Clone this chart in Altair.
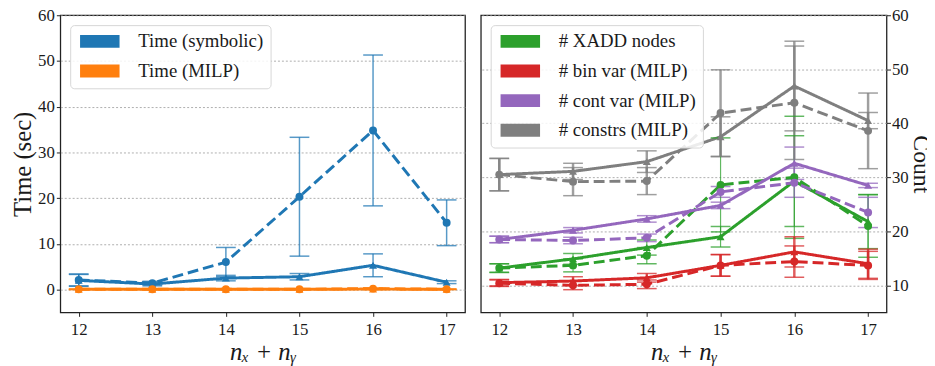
import altair as alt
import pandas as pd

X = [12, 13, 14, 15, 16, 17]

# ---------------- Left panel: time ----------------
TIME_SERIES = ["Time (symbolic)", "Time (MILP)"]
TIME_COLORS = ["#1f77b4", "#ff7f0e"]

sym_solid = [2.0, 1.2, 2.5, 2.8, 5.3, 1.6]
sym_solid_err = [1.3, 0.4, 0.6, 0.7, 2.5, 0.3]
sym_dash = [2.1, 1.4, 6.0, 20.3, 34.8, 14.6]
sym_dash_err = [1.3, 0.4, 3.2, 13.0, 16.5, 5.0]
milp_solid = [0.05, 0.05, 0.05, 0.05, 0.1, 0.05]
milp_solid_err = [0.05, 0.05, 0.05, 0.05, 0.1, 0.05]
milp_dash = [0.05, 0.05, 0.05, 0.05, 0.2, 0.05]
milp_dash_err = [0.05, 0.05, 0.05, 0.05, 0.1, 0.05]

# ---------------- Right panel: counts ----------------
COUNT_SERIES = ["# XADD nodes", "# bin var (MILP)", "# cont var (MILP)", "# constrs (MILP)"]
COUNT_COLORS = ["#2ca02c", "#d62728", "#9467bd", "#7f7f7f"]

xadd_solid = [13.2, 14.9, 17.0, 19.0, 29.3, 21.8]
xadd_solid_err = [0.8, 1.0, 1.4, 1.9, 8.4, 5.0]
xadd_dash = [13.2, 13.7, 15.5, 28.6, 30.0, 21.0]
xadd_dash_err = [0.8, 1.2, 1.5, 8.7, 11.3, 5.8]

bin_solid = [10.5, 10.8, 11.4, 13.7, 16.2, 14.0]
bin_solid_err = [0.6, 0.8, 0.8, 2.0, 2.8, 2.7]
bin_dash = [10.4, 10.0, 10.2, 13.7, 14.4, 13.7]
bin_dash_err = [0.6, 0.8, 0.8, 2.0, 2.9, 2.6]

cont_solid = [18.5, 20.2, 22.3, 24.8, 32.6, 28.5]
cont_solid_err = [0.6, 0.5, 0.6, 0.6, 3.0, 0.4]
cont_dash = [18.5, 18.3, 18.8, 27.3, 29.0, 23.5]
cont_dash_err = [0.6, 0.6, 0.7, 1.0, 2.7, 2.8]

cons_solid = [30.5, 31.1, 32.9, 37.5, 46.9, 40.5]
cons_solid_err = [3.0, 1.5, 2.0, 3.7, 8.3, 1.5]
cons_dash = [30.5, 29.2, 29.3, 41.9, 43.8, 38.6]
cons_dash_err = [3.0, 2.6, 2.5, 8.0, 10.5, 7.0]

ERR_WIDTH = {
    "Time (symbolic)": 1.5, "Time (MILP)": 1.5,
    "# XADD nodes": 1.2, "# bin var (MILP)": 2.5,
    "# cont var (MILP)": 1.5, "# constrs (MILP)": 2.5,
}

FONT = "Liberation Serif"


def build(entries):
    rows = []
    for series, style, means, errs in entries:
        for x, m, e in zip(X, means, errs):
            rows.append({"x": x, "series": series, "style": style, "mean": m,
                         "lo": m - e, "hi": m + e, "ew": ERR_WIDTH[series]})
    return pd.DataFrame(rows)


time_df = build([
    ("Time (symbolic)", "solid", sym_solid, sym_solid_err),
    ("Time (symbolic)", "dashed", sym_dash, sym_dash_err),
    ("Time (MILP)", "solid", milp_solid, milp_solid_err),
    ("Time (MILP)", "dashed", milp_dash, milp_dash_err),
])

count_df = build([
    ("# XADD nodes", "solid", xadd_solid, xadd_solid_err),
    ("# XADD nodes", "dashed", xadd_dash, xadd_dash_err),
    ("# bin var (MILP)", "solid", bin_solid, bin_solid_err),
    ("# bin var (MILP)", "dashed", bin_dash, bin_dash_err),
    ("# cont var (MILP)", "solid", cont_solid, cont_solid_err),
    ("# cont var (MILP)", "dashed", cont_dash, cont_dash_err),
    ("# constrs (MILP)", "solid", cons_solid, cons_solid_err),
    ("# constrs (MILP)", "dashed", cons_dash, cons_dash_err),
])

# legend patch: 40 x 13 px filled rectangle (size 169 -> unit = 6.5 px)
PATCH = "M-1,-1L5.154,-1L5.154,1L-1,1Z"
PLOT_H = 301


def panel(df, series, colors, ydom, yvals, ytitle, yorient, width):
    xenc = alt.X("x:Q", scale=alt.Scale(domain=[11.75, 17.25], nice=False, zero=False),
                 axis=alt.Axis(values=X, format="d", title="nₓ + nᵧ", grid=False,
                               titleFontStyle="italic"))
    yscale = alt.Scale(domain=ydom, nice=False, zero=False)
    yaxis = alt.Axis(values=yvals, title=ytitle, orient=yorient, grid=True,
                     gridDash=[2, 2], gridColor="#9a9a9a", gridWidth=0.8)
    cscale = alt.Scale(domain=series, range=colors)
    base = alt.Chart(df)

    cap_lo = base.mark_tick(orient="horizontal", size=20, thickness=1.5, fillOpacity=0.75).encode(
        x=xenc, y=alt.Y("lo:Q", scale=yscale, axis=yaxis),
        color=alt.Color("series:N", scale=cscale,
                        legend=alt.Legend(title=None, orient="top-left", offset=10,
                                          symbolType=PATCH, symbolSize=169,
                                          symbolStrokeWidth=0, symbolOpacity=1,
                                          labelFont=FONT, labelFontSize=19,
                                          labelColor="#1a1a1a", labelOffset=43,
                                          rowPadding=10, padding=7,
                                          fillColor="rgba(255,255,255,0.85)",
                                          strokeColor="#d6d6d6", cornerRadius=4)),
    )
    lines = base.mark_line(strokeWidth=3).encode(
        x=xenc, y=alt.Y("mean:Q", scale=yscale),
        color=alt.Color("series:N", scale=cscale),
        strokeDash=alt.StrokeDash("style:N", scale=alt.Scale(domain=["solid", "dashed"],
                                                             range=[[1, 0], [11, 5]]), legend=None),
        detail="style:N",
    )
    rules = base.mark_rule(strokeOpacity=0.75).encode(
        x=xenc,
        y=alt.Y("lo:Q", scale=yscale),
        y2="hi:Q",
        color=alt.Color("series:N", scale=cscale),
        strokeWidth=alt.StrokeWidth("ew:Q", scale=None),
    )
    cap_hi = base.mark_tick(orient="horizontal", size=20, thickness=1.5, fillOpacity=0.75).encode(
        x=xenc, y=alt.Y("hi:Q", scale=yscale),
        color=alt.Color("series:N", scale=cscale),
    )
    points = base.mark_point(filled=True, size=65, opacity=1).encode(
        x=xenc, y=alt.Y("mean:Q", scale=yscale),
        color=alt.Color("series:N", scale=cscale),
        shape=alt.Shape("style:N", scale=alt.Scale(domain=["solid", "dashed"],
                                                   range=["triangle-up", "circle"]), legend=None),
    )
    return alt.layer(cap_lo, lines, rules, cap_hi, points).properties(width=width, height=PLOT_H)


left = panel(time_df, TIME_SERIES, TIME_COLORS, [-5, 60], [0, 10, 20, 30, 40, 50, 60],
             "Time (sec)", "left", 410)
right = panel(count_df, COUNT_SERIES, COUNT_COLORS, [5, 60], [10, 20, 30, 40, 50, 60],
              "Count", "right", 411)

chart = alt.hconcat(left, right, spacing=14).resolve_scale(
    color="independent", shape="independent", strokeDash="independent",
    x="independent", y="independent",
).resolve_legend(color="independent").properties(
    padding={"left": 2, "top": -5, "right": -6, "bottom": 0}
).configure_view(
    stroke="#222222", strokeWidth=1.3
).configure_axis(
    labelFont=FONT, labelFontSize=17, labelColor="#1a1a1a",
    titleFont=FONT, titleFontSize=25, titleColor="#1a1a1a", titleFontWeight="normal",
    domain=False, tickColor="#222222", tickSize=4, labelPadding=2,
).configure_axisX(titlePadding=3, labelPadding=5).configure_axisLeft(
    titlePadding=2
).configure_axisRight(titlePadding=0, labelPadding=1, titleFontSize=24)

chart.save("out.html", embed_options={"renderer": "svg", "actions": False})
